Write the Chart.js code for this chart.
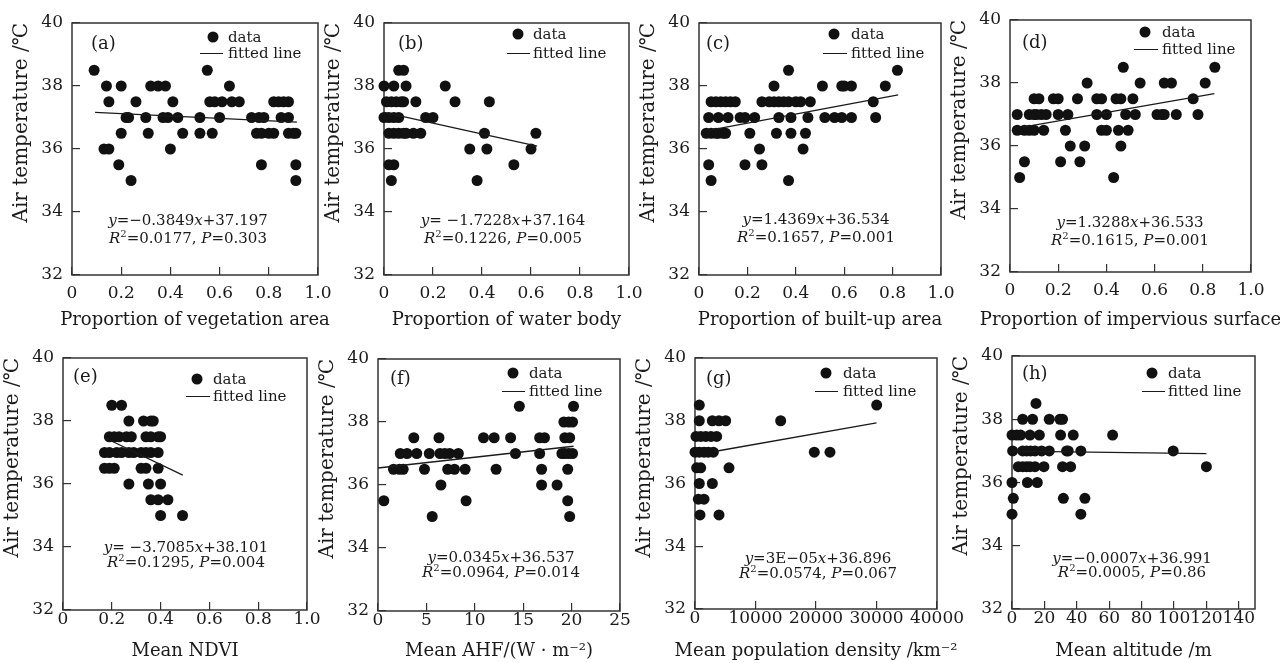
<!DOCTYPE html>
<html>
<head>
<meta charset="utf-8">
<script src="https://cdn.jsdelivr.net/npm/chart.js@4.4.0/dist/chart.umd.min.js"></script>
<style>
html, body { margin: 0; padding: 0; background: #fff; }
body { width: 1280px; height: 663px; position: relative; overflow: hidden; font-family: "DejaVu Serif", serif; color: #1a1a1a; }
canvas { position: absolute; }
.tag { position: absolute; font-size: 18px; line-height: 20px; transform: translateY(-50%); white-space: nowrap; }
.eq { position: absolute; font-size: 15px; line-height: 18px; transform: translate(-50%, -50%); white-space: nowrap; }
.eq sup { font-size: 10px; line-height: 0; }
.leg { position: absolute; font-size: 15px; line-height: 18px; transform: translateY(-50%); white-space: nowrap; }
.xt { position: absolute; font-size: 18px; line-height: 22px; transform: translate(-50%, -50%); white-space: nowrap; }
.dot { position: absolute; width: 11px; height: 11px; border-radius: 50%; background: #111; transform: translate(-50%, -50%); }
.dash { position: absolute; height: 0; border-top: 1.3px solid #1a1a1a; }
</style>
</head>
<body>
<script>
// ---- data ----
const yTicks = [32, 34, 36, 38, 40];
const propTicks = [0, 0.2, 0.4, 0.6, 0.8, 1.0];
const ahfTicks = [0, 5, 10, 15, 20, 25];
const popTicks = [0, 10000, 20000, 30000, 40000];
const altTicks = [0, 20, 40, 60, 80, 100, 120, 140];

const panelTags = ['(a)', '(b)', '(c)', '(d)', '(e)', '(f)', '(g)', '(h)'];
const xTitles = ['Proportion of vegetation area', 'Proportion of water body', 'Proportion of built-up area',
  'Proportion of impervious surface', 'Mean NDVI', 'Mean AHF/(W · m\u207b\u00b2)',
  'Mean population density /km\u207b\u00b2', 'Mean altitude /m'];
const yTitle = 'Air temperature /\u2103';
const eqLines = ['<i>y</i>=\u22120.3849<i>x</i>+37.197', '<i>y</i>= \u22121.7228<i>x</i>+37.164',
  '<i>y</i>=1.4369<i>x</i>+36.534', '<i>y</i>=1.3288<i>x</i>+36.533', '<i>y</i>= \u22123.7085<i>x</i>+38.101',
  '<i>y</i>=0.0345<i>x</i>+36.537', '<i>y</i>=3E\u221205<i>x</i>+36.896', '<i>y</i>=\u22120.0007<i>x</i>+36.991'];
const r2Lines = ['0.0177', '0.1226', '0.1657', '0.1615', '0.1295', '0.0964', '0.0574', '0.0005'];
const pLines = ['0.303', '0.005', '0.001', '0.001', '0.004', '0.014', '0.067', '0.86'];

const aX = [0.09,0.14,0.15,0.13,0.15,0.20,0.20,0.19,0.22,0.23,0.24,0.26,0.30,0.31,0.32,0.35,0.38,0.37,0.39,0.41,0.40,0.43,0.45,0.52,0.52,0.55,0.56,0.58,0.61,0.57,0.60,0.64,0.65,0.68,0.73,0.76,0.78,0.75,0.77,0.77,0.80,0.82,0.82,0.84,0.86,0.88,0.85,0.88,0.88,0.90,0.91,0.91,0.91];
const aY = [38.5,38,37.5,36,36,38,36.5,35.5,37,37,35,37.5,37,36.5,38,38,38,37,37,37.5,36,37,36.5,37,36.5,38.5,37.5,37.5,37.5,36.5,37,38,37.5,37.5,37,37,37,36.5,36.5,35.5,36.5,36.5,37.5,37.5,37.5,37.5,37,37,36.5,36.5,36.5,35.5,35];
const aFitX = [0.094, 0.914];
const aFitY = [37.16, 36.85];

const bX = [0,0.04,0.09,0.06,0.08,0.01,0.03,0.05,0.07,0.08,0.13,0,0.02,0.04,0.06,0.02,0.04,0.06,0.08,0.09,0.12,0.15,0.17,0.2,0.02,0.04,0.03,0.25,0.29,0.43,0.41,0.35,0.42,0.38,0.53,0.6,0.62];
const bY = [38,38,38,38.5,38.5,37.5,37.5,37.5,37.5,37.5,37.5,37,37,37,37,36.5,36.5,36.5,36.5,36.5,36.5,36.5,37,37,35.5,35.5,35,38,37.5,37.5,36.5,36,36,35,35.5,36,36.5];
const bFitX = [0.0, 0.625];
const bFitY = [37.16, 36.09];

const cX = [0.04,0.03,0.05,0.07,0.08,0.1,0.11,0.04,0.05,0.05,0.07,0.09,0.11,0.13,0.15,0.08,0.12,0.17,0.19,0.23,0.21,0.19,0.25,0.26,0.26,0.29,0.31,0.33,0.35,0.37,0.31,0.33,0.32,0.37,0.38,0.38,0.37,0.4,0.42,0.46,0.45,0.44,0.43,0.51,0.52,0.56,0.59,0.63,0.59,0.6,0.63,0.72,0.73,0.77,0.82];
const cY = [37,36.5,36.5,36.5,36.5,36.5,36.5,35.5,35,37.5,37.5,37.5,37.5,37.5,37.5,37,37,37,37,37,36.5,35.5,36,35.5,37.5,37.5,37.5,37.5,37.5,37.5,38,37,36.5,38.5,37,36.5,35,37.5,37.5,37.5,37,36.5,36,38,37,37,37,37,38,38,38,37.5,37,38,38.5];
const cFitX = [0.035, 0.823];
const cFitY = [36.58, 37.72];

const dX = [0.03,0.03,0.04,0.06,0.06,0.08,0.1,0.08,0.1,0.11,0.13,0.15,0.1,0.12,0.14,0.18,0.2,0.2,0.24,0.21,0.23,0.25,0.28,0.29,0.31,0.32,0.36,0.38,0.36,0.38,0.4,0.4,0.43,0.44,0.46,0.47,0.48,0.45,0.49,0.46,0.51,0.52,0.54,0.61,0.63,0.64,0.64,0.67,0.69,0.76,0.78,0.81,0.85];
const dY = [37,36.5,35,35.5,36.5,36.5,36.5,37,37,37,37,37,37.5,37.5,36.5,37.5,37.5,37,37,35.5,36.5,36,37.5,35.5,36,38,37.5,37.5,37,36.5,36.5,37,35,37.5,37.5,38.5,37,36.5,36.5,36,37.5,37,38,37,37,37,38,38,37,37.5,37,38,38.5];
const dFitX = [0.053, 0.848];
const dFitY = [36.60, 37.66];

const eX = [0.20,0.24,0.27,0.33,0.36,0.37,0.19,0.21,0.23,0.26,0.28,0.34,0.36,0.39,0.40,0.17,0.19,0.22,0.24,0.27,0.29,0.32,0.34,0.36,0.39,0.17,0.19,0.21,0.32,0.34,0.39,0.27,0.35,0.40,0.36,0.39,0.43,0.40,0.49];
const eY = [38.5,38.5,38,38,38,38,37.5,37.5,37.5,37.5,37.5,37.5,37.5,37.5,37.5,37,37,37,37,37,37,37,37,37,37,36.5,36.5,36.5,36.5,36.5,36.5,36,36,36,35.5,35.5,35.5,35,35];
const eFitX = [0.173, 0.491];
const eFitY = [37.46, 36.28];

const fX = [0.6,1.6,2.2,2.6,2.3,3.0,4.0,3.7,4.8,5.3,5.6,6.3,6.4,6.9,7.4,8.3,6.5,7.2,7.9,9.0,9.1,10.9,12.0,12.2,13.7,14.2,14.6,16.7,17.2,16.7,16.9,16.9,18.5,19.3,19.8,19.2,19.7,20.1,20.2,19.0,19.3,19.7,20.1,19.6,19.6,19.8];
const fY = [35.5,36.5,36.5,36.5,37,37,37,37.5,36.5,37,35,37.5,37,37,37,37,36,36.5,36.5,36.5,35.5,37.5,37.5,36.5,37.5,37,38.5,37.5,37.5,37,36.5,36,36,37.5,37.5,38,38,38,38.5,37,37,37,37,36.5,35.5,35];
const fFitX = [0, 20.2];
const fFitY = [36.54, 37.23];

const gX = [710,710,2865,3970,5070,165,940,1770,2645,3580,0,710,1490,2200,3030,275,940,5620,710,2865,550,1490,825,3970,14160,19720,22310,30030];
const gY = [38.5,38,38,38,38,37.5,37.5,37.5,37.5,37.5,37,37,37,37,37,36.5,36.5,36.5,36,36,35.5,35.5,35,35,38,37,37,38.5];
const gFitX = [3200, 30000];
const gFitY = [37.02, 37.93];

const hX = [0,0.8,0,0.4,0,2.9,5.3,3.9,6.6,9.0,11.1,14.2,19.7,6.6,9.0,11.5,14.2,18.3,23.0,6.6,12.7,23.0,11.1,16.9,14.8,9.5,15.6,29.6,31.2,30.0,37.8,33.7,34.7,42.5,31.2,36.2,31.7,45.0,42.5,62.1,99.5,120];
const hY = [35,35.5,36,37,37.5,37.5,37.5,36.5,36.5,36.5,36.5,36.5,36.5,37,37,37,37,37,37,38,38,38,37.5,37.5,38.5,36,36,38,38,37.5,37.5,37,37,37,36.5,36.5,35.5,35.5,35,37.5,37,36.5];
const hFitX = [0, 120];
const hFitY = [36.99, 36.91];

// ---- layout (page pixels) ----
const boxes = [
  {l: 72, t: 23, r: 318, b: 275}, {l: 384, t: 23, r: 629, b: 275},
  {l: 699, t: 23, r: 941, b: 275}, {l: 1010, t: 20, r: 1251, b: 272},
  {l: 63, t: 358, r: 307, b: 610}, {l: 378, t: 359, r: 620, b: 611},
  {l: 695, t: 358, r: 937, b: 609}, {l: 1012, t: 356, r: 1255, b: 609}
];
const marks = [
  {tag: [91, 43], dot: [213, 37], tx: 228, ln: [200, 223, 53], eq: [188, 220, 238]},
  {tag: [398, 43], dot: [518, 34], tx: 533, ln: [507, 530, 53], eq: [503, 220, 238]},
  {tag: [706, 43], dot: [834, 34], tx: 851, ln: [823, 847, 53], eq: [816, 219, 237]},
  {tag: [1022, 42], dot: [1145, 32], tx: 1162, ln: [1134, 1158, 49], eq: [1130, 222, 240]},
  {tag: [73, 376], dot: [197, 379], tx: 213, ln: [186, 210, 396], eq: [186, 547, 562]},
  {tag: [390, 378], dot: [513, 373], tx: 529, ln: [502, 525, 391], eq: [501, 557, 572]},
  {tag: [706, 378], dot: [826, 373], tx: 843, ln: [815, 838, 391], eq: [818, 558, 573]},
  {tag: [1022, 373], dot: [1152, 373], tx: 1168, ln: [1142, 1165, 391], eq: [1132, 558, 572]}
];
const titleRowY = [319, 650];

const propFmt = v => (v === 0 ? '0' : v.toFixed(1));
const plainFmt = v => String(v);
const panels = [
  {x: aX, y: aY, fx: aFitX, fy: aFitY, ticks: propTicks, max: 1.0, fmt: propFmt},
  {x: bX, y: bY, fx: bFitX, fy: bFitY, ticks: propTicks, max: 1.0, fmt: propFmt},
  {x: cX, y: cY, fx: cFitX, fy: cFitY, ticks: propTicks, max: 1.0, fmt: propFmt},
  {x: dX, y: dY, fx: dFitX, fy: dFitY, ticks: propTicks, max: 1.0, fmt: propFmt},
  {x: eX, y: eY, fx: eFitX, fy: eFitY, ticks: propTicks, max: 1.0, fmt: propFmt},
  {x: fX, y: fY, fx: fFitX, fy: fFitY, ticks: ahfTicks, max: 25, fmt: plainFmt},
  {x: gX, y: gY, fx: gFitX, fy: gFitY, ticks: popTicks, max: 40000, fmt: plainFmt},
  {x: hX, y: hY, fx: hFitX, fy: hFitY, ticks: altTicks, max: 150, fmt: plainFmt}
];

const ink = '#1a1a1a';
const boxPlugin = {
  id: 'frame',
  beforeDatasetsDraw(chart) {
    const a = chart.chartArea, ctx = chart.ctx;
    ctx.save();
    ctx.strokeStyle = '#333';
    ctx.lineWidth = 1.5;
    ctx.strokeRect(a.left, a.top, a.right - a.left, a.bottom - a.top);
    ctx.restore();
  }
};

const add = (cls, text, left, top, extra, asHtml) => {
  const d = document.createElement('div');
  d.className = cls;
  if (asHtml) d.innerHTML = text; else d.textContent = text;
  d.style.left = left + 'px';
  d.style.top = top + 'px';
  if (extra) Object.assign(d.style, extra);
  document.body.appendChild(d);
};

const L = 72, R = 29, T = 10;
panels.forEach((p, i) => {
  const bx = boxes[i];
  const row2 = i >= 4;
  const B = row2 ? 663 - bx.b : 40;
  const w = bx.r - bx.l + L + R, h = bx.b - bx.t + T + B;
  const cv = document.createElement('canvas');
  cv.width = w; cv.height = h;
  cv.style.left = (bx.l - L) + 'px';
  cv.style.top = (bx.t - T) + 'px';
  cv.style.width = w + 'px';
  cv.style.height = h + 'px';
  document.body.appendChild(cv);

  new Chart(cv, {
    type: 'scatter',
    data: {
      datasets: [
        {type: 'line', data: p.fx.map((v, k) => ({x: v, y: p.fy[k]})), borderColor: ink, borderWidth: 1.3,
          pointRadius: 0, fill: false, clip: false, order: 0},
        {data: p.x.map((v, k) => ({x: v, y: p.y[k]})), backgroundColor: '#111', borderWidth: 0,
          pointRadius: 5.5, pointHoverRadius: 5.5, clip: false, order: 1}
      ]
    },
    options: {
      responsive: false,
      animation: false,
      events: [],
      layout: {padding: {left: 0, top: T, right: R, bottom: 0}},
      plugins: {legend: {display: false}, tooltip: {enabled: false}},
      scales: {
        x: {
          type: 'linear', min: p.ticks[0], max: p.max,
          afterBuildTicks: s => { s.ticks = p.ticks.map(v => ({value: v})); },
          afterFit: s => { s.height = B; s.paddingLeft = 0; s.paddingRight = 0; s.paddingTop = 0; s.paddingBottom = 0; },
          border: {display: false},
          grid: {drawOnChartArea: false, tickLength: -8, color: '#333', lineWidth: 1.2},
          ticks: {color: ink, font: {family: 'DejaVu Serif', size: 17}, padding: row2 ? 7 : 16,
            maxRotation: 0, autoSkip: false, callback: v => p.fmt(v)}
        },
        y: {
          type: 'linear', min: 32, max: 40,
          afterBuildTicks: s => { s.ticks = yTicks.map(v => ({value: v})); },
          afterFit: s => { s.width = L; s.paddingTop = 0; s.paddingBottom = 0; s.paddingLeft = 0; s.paddingRight = 0; },
          border: {display: false},
          grid: {drawOnChartArea: false, tickLength: -8, color: '#333', lineWidth: 1.2},
          ticks: {color: ink, font: {family: 'DejaVu Serif', size: 17}, padding: 17, autoSkip: false},
          title: {display: true, text: yTitle, align: 'end', color: ink, font: {family: 'DejaVu Serif', size: 20},
            padding: {top: 10, bottom: 0}}
        }
      }
    },
    plugins: [boxPlugin]
  });

  // x title, panel tag, legend and regression text
  const m = marks[i];
  add('xt', xTitles[i], (bx.l + bx.r) / 2, titleRowY[row2 ? 1 : 0]);
  add('tag', panelTags[i], m.tag[0], m.tag[1]);
  add('dot', '', m.dot[0], m.dot[1]);
  add('leg', 'data', m.tx, m.dot[1]);
  add('dash', '', m.ln[0], m.ln[2], {width: (m.ln[1] - m.ln[0]) + 'px'});
  add('leg', 'fitted line', m.tx, m.ln[2]);
  add('eq', eqLines[i], m.eq[0], m.eq[1], null, true);
  add('eq', '<i>R</i><sup>2</sup>=' + r2Lines[i] + ', <i>P</i>=' + pLines[i], m.eq[0], m.eq[2], null, true);
});
</script>
</body>
</html>
